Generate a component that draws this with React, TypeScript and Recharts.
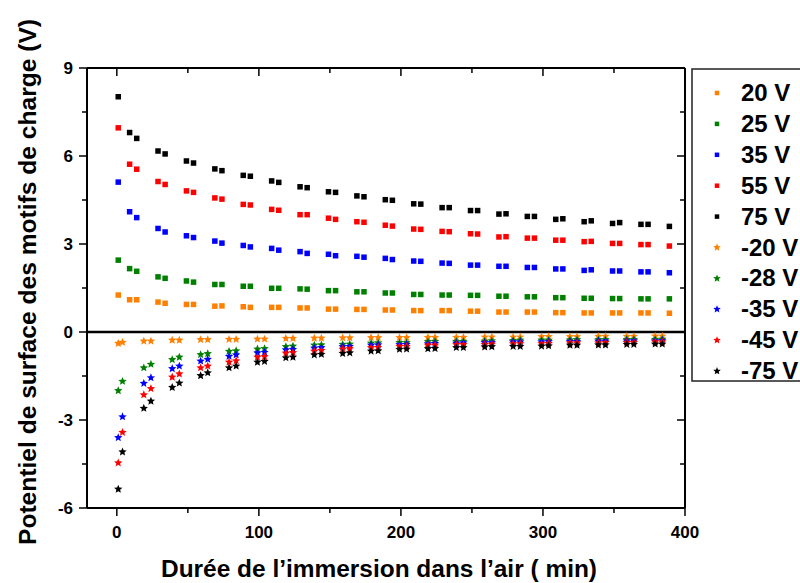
import React from 'react';
import { ScatterChart, Scatter, XAxis, YAxis, ReferenceLine } from 'recharts';

// time (min) at which each point was measured
const squareTimes = [1, 9, 14, 29, 34, 49, 54, 69, 74, 89, 94, 109, 114, 129, 134, 149, 154, 169, 174, 189, 194, 209, 214, 229, 234, 249, 254, 269, 274, 289, 294, 309, 314, 329, 334, 349, 354, 369, 374, 389];
const starTimes = [1, 4, 19, 24, 39, 44, 59, 64, 79, 84, 99, 104, 119, 124, 139, 144, 159, 164, 179, 184, 199, 204, 219, 224, 239, 244, 259, 264, 279, 284, 299, 304, 319, 324, 339, 344, 359, 364, 379, 384];

// positive charging (V)
const p20 = [1.26, 1.10, 1.10, 1.02, 0.98, 0.94, 0.94, 0.88, 0.89, 0.86, 0.84, 0.84, 0.84, 0.82, 0.82, 0.78, 0.78, 0.77, 0.77, 0.75, 0.75, 0.73, 0.73, 0.73, 0.73, 0.71, 0.71, 0.68, 0.68, 0.68, 0.68, 0.66, 0.66, 0.65, 0.65, 0.65, 0.65, 0.65, 0.65, 0.64];
const p25 = [2.45, 2.16, 2.07, 1.88, 1.83, 1.74, 1.70, 1.62, 1.62, 1.56, 1.56, 1.49, 1.49, 1.47, 1.46, 1.41, 1.41, 1.37, 1.37, 1.33, 1.33, 1.28, 1.28, 1.26, 1.26, 1.25, 1.25, 1.22, 1.22, 1.20, 1.20, 1.17, 1.17, 1.15, 1.15, 1.14, 1.14, 1.13, 1.13, 1.13];
const p35 = [5.11, 4.10, 3.90, 3.53, 3.41, 3.28, 3.22, 3.10, 3.03, 2.95, 2.90, 2.85, 2.79, 2.74, 2.68, 2.65, 2.60, 2.58, 2.55, 2.51, 2.47, 2.42, 2.41, 2.35, 2.34, 2.28, 2.28, 2.24, 2.24, 2.20, 2.20, 2.15, 2.15, 2.10, 2.12, 2.08, 2.08, 2.05, 2.05, 2.02];
const p55 = [6.96, 5.72, 5.55, 5.13, 5.03, 4.81, 4.76, 4.57, 4.53, 4.35, 4.33, 4.18, 4.15, 4.00, 4.00, 3.88, 3.84, 3.76, 3.74, 3.64, 3.61, 3.51, 3.50, 3.43, 3.42, 3.35, 3.34, 3.24, 3.25, 3.20, 3.20, 3.13, 3.13, 3.08, 3.09, 3.02, 3.02, 2.98, 2.98, 2.93];
const p75 = [8.02, 6.80, 6.60, 6.17, 6.07, 5.83, 5.76, 5.56, 5.50, 5.34, 5.31, 5.15, 5.10, 4.95, 4.92, 4.78, 4.76, 4.64, 4.61, 4.51, 4.49, 4.37, 4.36, 4.24, 4.24, 4.14, 4.14, 4.02, 4.03, 3.94, 3.94, 3.84, 3.86, 3.76, 3.79, 3.70, 3.73, 3.67, 3.67, 3.60];

// negative charging (V)
const n20 = [-0.39, -0.35, -0.31, -0.31, -0.28, -0.28, -0.26, -0.26, -0.25, -0.25, -0.24, -0.24, -0.22, -0.22, -0.21, -0.21, -0.20, -0.20, -0.19, -0.19, -0.19, -0.19, -0.18, -0.18, -0.18, -0.18, -0.17, -0.17, -0.17, -0.17, -0.16, -0.16, -0.16, -0.16, -0.15, -0.15, -0.15, -0.15, -0.14, -0.14];
const n28 = [-2.00, -1.68, -1.22, -1.10, -0.94, -0.86, -0.77, -0.74, -0.66, -0.64, -0.58, -0.57, -0.50, -0.48, -0.45, -0.44, -0.42, -0.41, -0.38, -0.37, -0.36, -0.36, -0.33, -0.32, -0.32, -0.32, -0.31, -0.30, -0.29, -0.28, -0.28, -0.28, -0.27, -0.26, -0.26, -0.26, -0.25, -0.25, -0.25, -0.24];
const n35 = [-3.60, -2.89, -1.75, -1.56, -1.25, -1.16, -0.99, -0.93, -0.83, -0.78, -0.71, -0.69, -0.61, -0.59, -0.55, -0.53, -0.50, -0.49, -0.45, -0.44, -0.43, -0.42, -0.40, -0.39, -0.38, -0.37, -0.36, -0.36, -0.34, -0.34, -0.34, -0.33, -0.32, -0.32, -0.31, -0.31, -0.30, -0.30, -0.30, -0.29];
const n45 = [-4.46, -3.42, -2.14, -1.93, -1.54, -1.43, -1.22, -1.16, -1.03, -0.98, -0.86, -0.84, -0.72, -0.70, -0.65, -0.63, -0.58, -0.57, -0.53, -0.52, -0.49, -0.49, -0.45, -0.45, -0.43, -0.43, -0.42, -0.41, -0.40, -0.40, -0.40, -0.39, -0.37, -0.37, -0.37, -0.36, -0.35, -0.35, -0.34, -0.34];
const n75 = [-5.36, -4.09, -2.60, -2.36, -1.89, -1.74, -1.49, -1.39, -1.22, -1.16, -1.03, -1.00, -0.88, -0.86, -0.78, -0.76, -0.73, -0.71, -0.65, -0.64, -0.59, -0.58, -0.57, -0.56, -0.53, -0.53, -0.51, -0.50, -0.49, -0.49, -0.48, -0.47, -0.45, -0.45, -0.44, -0.44, -0.42, -0.42, -0.41, -0.41];

const xTicks = [0, 50, 100, 150, 200, 250, 300, 350, 400];
const yTicks = [-6, -4.5, -3, -1.5, 0, 1.5, 3, 4.5, 6, 7.5, 9];

const series = [
  { name: '20 V', color: '#FF8000', marker: 'square', times: squareTimes, values: p20 },
  { name: '25 V', color: '#008000', marker: 'square', times: squareTimes, values: p25 },
  { name: '35 V', color: '#0000FF', marker: 'square', times: squareTimes, values: p35 },
  { name: '55 V', color: '#FF0000', marker: 'square', times: squareTimes, values: p55 },
  { name: '75 V', color: '#000000', marker: 'square', times: squareTimes, values: p75 },
  { name: '-20 V', color: '#FF8000', marker: 'star', times: starTimes, values: n20 },
  { name: '-28 V', color: '#008000', marker: 'star', times: starTimes, values: n28 },
  { name: '-35 V', color: '#0000FF', marker: 'star', times: starTimes, values: n35 },
  { name: '-45 V', color: '#FF0000', marker: 'star', times: starTimes, values: n45 },
  { name: '-75 V', color: '#000000', marker: 'star', times: starTimes, values: n75 },
];

const FONT = "'Liberation Sans', Arial, sans-serif";
const PLOT_W = 598;
const PLOT_H = 440;

const starPath = (cx: number, cy: number, R: number) => {
  const r = R * 0.45;
  const pts: string[] = [];
  for (let i = 0; i < 10; i++) {
    const a = -Math.PI / 2 + (i * Math.PI) / 5;
    const rad = i % 2 === 0 ? R : r;
    pts.push(`${cx + rad * Math.cos(a)},${cy + rad * Math.sin(a)}`);
  }
  return pts.join(' ');
};

const Marker = ({ cx, cy, color, marker, size }: any) => {
  if (cx == null || cy == null) return null;
  if (marker === 'square') {
    return <rect x={cx - size / 2} y={cy - size / 2} width={size} height={size} fill={color} />;
  }
  return <polygon points={starPath(cx, cy, size * 0.8)} fill={color} />;
};

const XTick = ({ x, y, payload }: any) => {
  const major = payload.value % 100 === 0;
  const len = major ? 8 : 5;
  return (
    <g>
      <line x1={x} x2={x} y1={y} y2={y + len} stroke="#000" strokeWidth={1.5} />
      <line x1={x} x2={x} y1={y - PLOT_H} y2={y - PLOT_H + len} stroke="#000" strokeWidth={1.5} />
      {major && (
        <text x={x} y={y + 30} textAnchor="middle" fontFamily={FONT} fontWeight="bold" fontSize={17} fill="#000">
          {payload.value}
        </text>
      )}
    </g>
  );
};

const YTick = ({ x, y, payload }: any) => {
  const major = payload.value % 3 === 0;
  const len = major ? 8 : 5;
  return (
    <g>
      <line x1={x - len} x2={x} y1={y} y2={y} stroke="#000" strokeWidth={1.5} />
      <line x1={x + PLOT_W - len} x2={x + PLOT_W} y1={y} y2={y} stroke="#000" strokeWidth={1.5} />
      {major && (
        <text x={x - 14} y={y + 6} textAnchor="end" fontFamily={FONT} fontWeight="bold" fontSize={17} fill="#000">
          {payload.value}
        </text>
      )}
    </g>
  );
};

export default function App() {
  return (
    <div style={{ position: 'absolute', left: 0, top: 0, width: 800, height: 583, background: '#fff', overflow: 'hidden' }}>
      <ScatterChart width={800} height={583} margin={{ top: 68, right: 115, bottom: 0, left: 0 }}>
        <XAxis
          type="number"
          dataKey="x"
          domain={[-21, 400]}
          ticks={xTicks}
          interval={0}
          allowDataOverflow
          height={75}
          tickSize={0}
          tickMargin={0}
          tickLine={false}
          tick={<XTick />}
          axisLine={{ stroke: '#000', strokeWidth: 2 }}
        />
        <YAxis
          type="number"
          dataKey="y"
          domain={[-6, 9]}
          ticks={yTicks}
          interval={0}
          allowDataOverflow
          width={87}
          tickSize={0}
          tickMargin={0}
          tickLine={false}
          tick={<YTick />}
          axisLine={{ stroke: '#000', strokeWidth: 2 }}
        />
        <ReferenceLine y={9} stroke="#000" strokeWidth={2} />
        <ReferenceLine x={400} stroke="#000" strokeWidth={2} />
        <ReferenceLine y={0} stroke="#000" strokeWidth={2.5} />
        {series.map((s) => (
          <Scatter
            key={s.name}
            name={s.name}
            data={s.times.map((t, i) => ({ x: t, y: s.values[i] }))}
            isAnimationActive={false}
            shape={(p: any) => <Marker cx={p.cx} cy={p.cy} color={s.color} marker={s.marker} size={5.5} />}
          />
        ))}
      </ScatterChart>
      <svg width={800} height={583} style={{ position: 'absolute', left: 0, top: 0, pointerEvents: 'none' }}>
        <text
          x={379}
          y={577}
          textAnchor="middle"
          fontFamily={FONT}
          fontWeight="bold"
          fontSize={23}
          textLength={436}
          lengthAdjust="spacingAndGlyphs"
          fill="#000"
        >
          Durée de l’immersion dans l’air ( min)
        </text>
        <text
          transform="translate(36,282) rotate(-90)"
          textAnchor="middle"
          fontFamily={FONT}
          fontWeight="bold"
          fontSize={23}
          textLength={526}
          lengthAdjust="spacingAndGlyphs"
          fill="#000"
        >
          Potentiel de surface des motifs de charge (V)
        </text>
        <rect x={692} y={69} width={130} height={312} fill="#fff" stroke="#222" strokeWidth={1.5} />
        {series.map((s, i) => {
          const cy = 92 + i * 30.9;
          return (
            <g key={s.name}>
              <Marker cx={717} cy={cy + 1} color={s.color} marker={s.marker} size={s.marker === 'square' ? 4.5 : 5} />
              <text x={741} y={cy + 9} fontFamily={FONT} fontWeight="bold" fontSize={24} fill="#000">
                {s.name}
              </text>
            </g>
          );
        })}
      </svg>
    </div>
  );
}
